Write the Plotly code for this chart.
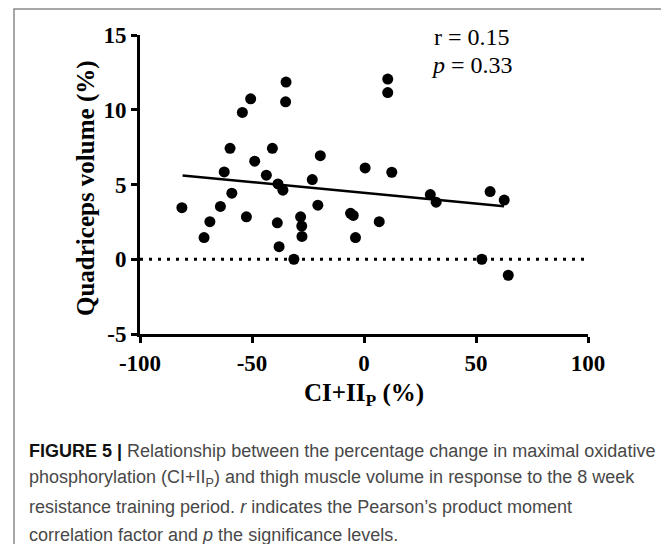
import plotly.graph_objects as go

# ---- data ----
ci_ii_p = [-81.3, -71.4, -68.8, -64.1, -62.4, -59.0, -59.8, -54.3, -50.6, -52.5,
           -48.8, -43.6, -40.9, -38.4, -36.2, -38.7, -37.9, -34.8, -35.0, -31.3,
           -28.3, -27.8, -27.7, -23.1, -20.6, -19.5, -6.0, -4.8, -3.8, 0.5,
           6.8, 10.6, 10.6, 12.4, 29.6, 32.2, 52.6, 56.3, 62.6, 64.4]
quad_volume = [3.45, 1.45, 2.51, 3.53, 5.84, 4.42, 7.42, 9.82, 10.73, 2.84,
               6.56, 5.62, 7.42, 5.04, 4.62, 2.44, 0.84, 11.85, 10.53, 0.0,
               2.84, 2.22, 1.53, 5.33, 3.62, 6.93, 3.07, 2.93, 1.45, 6.11,
               2.51, 12.05, 11.15, 5.82, 4.33, 3.82, 0.0, 4.53, 3.96, -1.07]
fit_x = [-81.0, 62.5]
fit_y = [5.6, 3.55]
zero_x = [-100, 100]
zero_y = [0, 0]
x_ticks = [-100, -50, 0, 50, 100]
y_ticks = [-5, 0, 5, 10, 15]
stats_lines = ["r = 0.15", "<i>p</i> = 0.33"]
caption_lines = [
    "<b><span style='color:#111'>FIGURE 5 |</span></b> Relationship between the percentage change in maximal oxidative",
    "phosphorylation (CI+II<sub>P</sub>) and thigh muscle volume in response to the 8 week",
    "resistance training period. <i>r</i> indicates the Pearson\u2019s product moment",
    "correlation factor and <i>p</i> the significance levels.",
]

OFF = 8  # default page margin of the browser body
W, H = 669 - OFF, 544 - OFF
L, R, T, B = 140 - OFF, 588 - OFF, 35 - OFF, 334 - OFF  # plot area (figure pixels)


def pxx(p):
    return (p - OFF - L) / (R - L)


def pxy(p):
    return (B - (p - OFF)) / (B - T)


SERIF = "Liberation Serif"
SANS = "Liberation Sans"

fig = go.Figure()
fig.add_trace(go.Scatter(x=zero_x, y=zero_y, mode="lines",
                         line=dict(color="black", width=3, dash="3px,6px"),
                         hoverinfo="skip", showlegend=False))
fig.add_trace(go.Scatter(x=fit_x, y=fit_y, mode="lines",
                         line=dict(color="black", width=2.5),
                         hoverinfo="skip", showlegend=False))
fig.add_trace(go.Scatter(x=ci_ii_p, y=quad_volume, mode="markers",
                         marker=dict(color="black", size=11, line=dict(width=0)),
                         showlegend=False))

axis_common = dict(showgrid=False, zeroline=False, showline=True, linecolor="black",
                   linewidth=3, ticks="outside", ticklen=6, tickwidth=3, tickcolor="black",
                   tickfont=dict(family=SERIF, size=23, color="black", weight="bold"))
fig.update_xaxes(range=[-100, 100], tickvals=x_ticks, ticktext=[str(v) for v in x_ticks],
                 **axis_common)
fig.update_yaxes(range=[-5, 15], tickvals=y_ticks, ticktext=[str(v) for v in y_ticks],
                 ticklabelstandoff=0, **axis_common)

ann = []
ann.append(dict(text="Quadriceps volume (%)", xref="paper", yref="paper",
                x=pxx(86), y=pxy(188), textangle=-90, showarrow=False,
                xanchor="center", yanchor="middle",
                font=dict(family=SERIF, size=25, color="black", weight="bold")))
ann.append(dict(text="CI+II<sub>P</sub> (%)", xref="paper", yref="paper",
                x=pxx(364), y=pxy(394), showarrow=False,
                xanchor="center", yanchor="middle",
                font=dict(family=SERIF, size=25, color="black", weight="bold")))
for t, px_, py_ in zip(stats_lines, [432, 429], [37, 65]):
    ann.append(dict(text=t, xref="paper", yref="paper", x=pxx(px_), y=pxy(py_),
                    showarrow=False, xanchor="left", yanchor="middle",
                    font=dict(family=SERIF, size=24, color="black")))
for i, t in enumerate(caption_lines):
    ann.append(dict(text=t, xref="paper", yref="paper", x=pxx(27), y=pxy(451 + 28 * i),
                    showarrow=False, xanchor="left", yanchor="middle",
                    font=dict(family=SANS, size=18, color="#484848")))

fig.update_layout(
    width=W, height=H, autosize=False,
    margin=dict(l=L, r=W - R, t=T, b=H - B, pad=0),
    paper_bgcolor="white", plot_bgcolor="white",
    annotations=ann,
    shapes=[dict(type="rect", xref="paper", yref="paper",
                 x0=pxx(14), x1=pxx(665), y0=pxy(600), y1=pxy(9),
                 line=dict(color="#8a8a8a", width=1.5), fillcolor="rgba(0,0,0,0)",
                 layer="below")],
)

fig.write_html("out.html")
